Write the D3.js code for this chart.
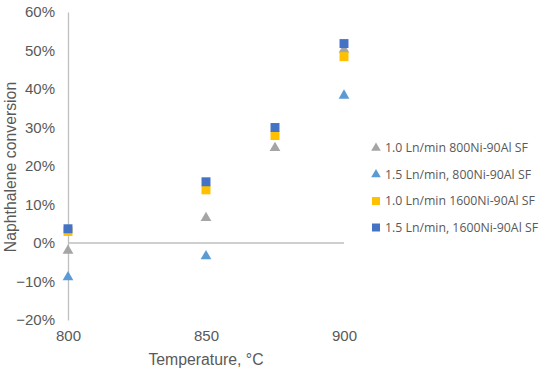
<!DOCTYPE html>
<html>
<head>
<meta charset="utf-8">
<script src="https://cdn.jsdelivr.net/npm/d3@7"></script>
<style>
  body { margin: 0; background: #fff; }
  text { font-family: "Liberation Sans", Arial, sans-serif; fill: #595959; }
  .legend text { font-family: "Open Sans", "Liberation Sans", sans-serif; }
</style>
</head>
<body>
<div id="chart"></div>
<script>
// temperatures (°C) and conversion values per series
const temps = [800, 850, 875, 900];
const seriesNames = [
  '1.0 Ln/min 800Ni-90Al SF',
  '1.5 Ln/min, 800Ni-90Al SF',
  '1.0 Ln/min 1600Ni-90Al SF',
  '1.5 Ln/min, 1600Ni-90Al SF',
];
const gray800 = [-0.02, 0.065, 0.247, 0.502];
const blue800 = [-0.089, -0.034, null, 0.383];
const yellow1600 = [0.03, 0.138, 0.279, 0.484];
const blue1600 = [0.037, 0.159, 0.30, 0.518];
const yTicks = [-0.2, -0.1, 0, 0.1, 0.2, 0.3, 0.4, 0.5, 0.6];
const xTicks = [800, 850, 900];

const colors = ['#A5A5A5', '#5B9BD5', '#FFC000', '#4472C4'];
const shapes = ['tri', 'tri', 'sq', 'sq'];
const allSeries = [gray800, blue800, yellow1600, blue1600];

const width = 550;
const height = 372;

const svg = d3.select('#chart')
  .append('svg')
  .attr('width', width)
  .attr('height', height);

const xScale = d3.scaleLinear().domain([800, 900]).range([68, 344]);
const yScale = d3.scaleLinear().domain([-0.2, 0.6]).range([320, 12]);

// y axis line (no tick marks)
const yAxis = d3.axisLeft(yScale)
  .tickValues(yTicks)
  .tickSize(0)
  .tickPadding(13)
  .tickFormat(d3.format('.0%'));

const gy = svg.append('g')
  .attr('transform', `translate(${xScale(800)}, 0)`)
  .call(yAxis);
gy.select('.domain').attr('stroke', '#BFBFBF').attr('stroke-width', 1.3);
gy.selectAll('text').style('font-size', '15px').attr('fill', '#595959');

// x axis drawn at 0%, labels along the bottom
svg.append('line')
  .attr('x1', xScale(800)).attr('x2', xScale(900))
  .attr('y1', yScale(0)).attr('y2', yScale(0))
  .attr('stroke', '#BFBFBF').attr('stroke-width', 1.3);

const xAxis = d3.axisBottom(xScale).tickValues(xTicks).tickSize(0).tickPadding(10);
const gx = svg.append('g')
  .attr('transform', `translate(0, ${yScale(-0.2)})`)
  .call(xAxis);
gx.select('.domain').remove();
gx.selectAll('text').style('font-size', '15px').attr('fill', '#595959');

// axis titles
svg.append('text')
  .attr('x', xScale(850))
  .attr('y', 365)
  .attr('text-anchor', 'middle')
  .style('font-size', '15.8px')
  .text('Temperature, °C');

svg.append('text')
  .attr('transform', `translate(16, ${yScale(0.2) + 1}) rotate(-90)`)
  .attr('text-anchor', 'middle')
  .style('font-size', '15.8px')
  .text('Naphthalene conversion');

// marker helper
const triSym = d3.symbol().type(d3.symbolTriangle).size(50);
const sqSym = d3.symbol().type(d3.symbolSquare).size(80);

allSeries.forEach((vals, i) => {
  const pts = temps.map((t, j) => ({ t, v: vals[j] })).filter((d) => d.v != null);
  svg.append('g')
    .selectAll('path')
    .data(pts)
    .join('path')
    .attr('transform', (d) => `translate(${xScale(d.t)}, ${yScale(d.v)})`)
    .attr('d', shapes[i] === 'tri' ? triSym : sqSym)
    .attr('fill', colors[i]);
});

// legend
const legend = svg.append('g').attr('class', 'legend');
seriesNames.forEach((name, i) => {
  const y = 148 + i * 26.5;
  const sym = shapes[i] === 'tri'
    ? d3.symbol().type(d3.symbolTriangle).size(40)
    : d3.symbol().type(d3.symbolSquare).size(64);
  legend.append('path')
    .attr('transform', `translate(376, ${y})`)
    .attr('d', sym)
    .attr('fill', colors[i]);
  legend.append('text')
    .attr('x', 385)
    .attr('y', y)
    .attr('dy', '0.35em')
    .style('font-size', '12.3px')
    .text(name);
});
</script>
</body>
</html>
